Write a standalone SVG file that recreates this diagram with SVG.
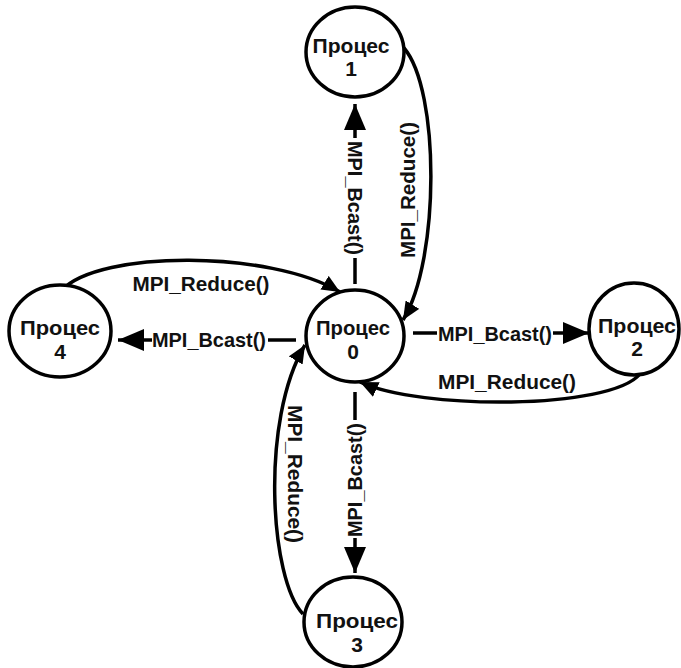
<svg xmlns="http://www.w3.org/2000/svg" width="681" height="668" viewBox="0 0 681 668">
<style>
.node ellipse{fill:#fff;stroke:#000;stroke-width:3.5}
.node text{font-family:"Liberation Sans",Arial,sans-serif;font-weight:bold;font-size:21px;fill:#111;text-anchor:middle}
.lbl{font-family:"Liberation Sans",Arial,sans-serif;font-weight:bold;font-size:21px;fill:#111;text-anchor:middle}
.bc{stroke:#000;stroke-width:3.5;fill:none}
.rd{stroke:#000;stroke-width:3.5;fill:none}
</style>
<defs>
<marker id="big" markerUnits="userSpaceOnUse" markerWidth="26" markerHeight="22" refX="26" refY="11" orient="auto"><path d="M0,0 L26,11 L0,22 z" fill="#000"/></marker>
<marker id="small" markerUnits="userSpaceOnUse" markerWidth="18" markerHeight="16" refX="18" refY="8" orient="auto"><path d="M0,0 L18,8 L0,16 z" fill="#000"/></marker>
</defs>
<rect width="681" height="668" fill="#fff"/>
<g id="connectors">
<line class="bc" x1="355" y1="284" x2="355" y2="258"/>
<line class="bc" x1="355" y1="138" x2="355" y2="104" marker-end="url(#big)"/>
<text class="lbl" transform="translate(348,198) rotate(90)" textLength="114" lengthAdjust="spacingAndGlyphs">MPI_Bcast()</text>
<line class="bc" x1="413" y1="333" x2="437" y2="333"/>
<line class="bc" x1="553" y1="333" x2="589" y2="333" marker-end="url(#big)"/>
<text class="lbl" x="495" y="341" textLength="114" lengthAdjust="spacingAndGlyphs">MPI_Bcast()</text>
<line class="bc" x1="355" y1="392" x2="355" y2="420"/>
<line class="bc" x1="355" y1="538" x2="355" y2="573" marker-end="url(#big)"/>
<text class="lbl" transform="translate(362,480) rotate(-90)" textLength="114" lengthAdjust="spacingAndGlyphs">MPI_Bcast()</text>
<line class="bc" x1="296" y1="340" x2="268" y2="340"/>
<line class="bc" x1="152" y1="340" x2="118" y2="340" marker-end="url(#big)"/>
<text class="lbl" x="209" y="347" textLength="114" lengthAdjust="spacingAndGlyphs">MPI_Bcast()</text>
<path class="rd" d="M404,48 C440,90 440,260 403,320" marker-end="url(#small)"/>
<text class="lbl" transform="translate(415,190) rotate(-90)" textLength="136" lengthAdjust="spacingAndGlyphs">MPI_Reduce()</text>
<path class="rd" d="M640,374 C610,410 420,410 360,382" marker-end="url(#small)"/>
<text class="lbl" x="507" y="389" textLength="138" lengthAdjust="spacingAndGlyphs">MPI_Reduce()</text>
<path class="rd" d="M303,614 C270,580 260,420 305,345" marker-end="url(#small)"/>
<text class="lbl" transform="translate(288,474) rotate(90)" textLength="138" lengthAdjust="spacingAndGlyphs">MPI_Reduce()</text>
<path class="rd" d="M62,290 C100,250 270,250 340,292" marker-end="url(#small)"/>
<text class="lbl" x="201" y="291" textLength="137" lengthAdjust="spacingAndGlyphs">MPI_Reduce()</text>
</g>
<g id="node0" class="node"><ellipse cx="355" cy="336" rx="49" ry="46"/><text x="353" y="335" textLength="74" lengthAdjust="spacingAndGlyphs">Процес</text><text x="353" y="359">0</text></g>
<g id="node1" class="node"><ellipse cx="355" cy="52" rx="49" ry="45"/><text x="351" y="53" textLength="77" lengthAdjust="spacingAndGlyphs">Процес</text><text x="351" y="76">1</text></g>
<g id="node2" class="node"><ellipse cx="634" cy="329" rx="45" ry="46"/><text x="637" y="333" textLength="78" lengthAdjust="spacingAndGlyphs">Процес</text><text x="637" y="356">2</text></g>
<g id="node3" class="node"><ellipse cx="353" cy="622" rx="49" ry="45"/><text x="357" y="628" textLength="82" lengthAdjust="spacingAndGlyphs">Процес</text><text x="357" y="652">3</text></g>
<g id="node4" class="node"><ellipse cx="60" cy="331" rx="51" ry="46"/><text x="60" y="335" textLength="80" lengthAdjust="spacingAndGlyphs">Процес</text><text x="60" y="359">4</text></g>
</svg>
